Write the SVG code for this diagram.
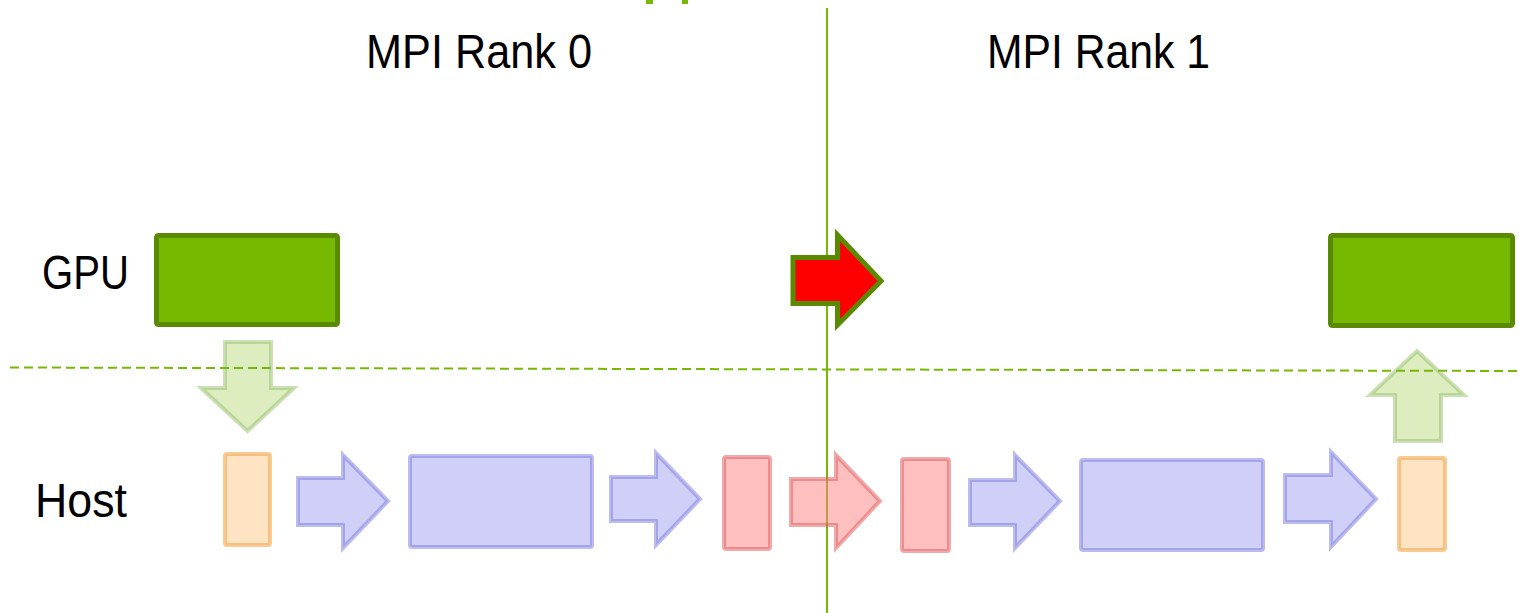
<svg xmlns="http://www.w3.org/2000/svg" width="1519" height="613" viewBox="0 0 1519 613">
<style>
.lbl{font-family:"Liberation Sans","DejaVu Sans",Arial,sans-serif;font-size:48px;fill:#000}
.gpu{fill:#76b900;stroke:#5a8a00;stroke-width:5;stroke-linejoin:round}
.blue{fill:#a0a0f0;fill-opacity:0.5;stroke:#7a7ae0;stroke-opacity:0.5;stroke-width:4;stroke-linejoin:miter}
.pink{fill:#ff8080;fill-opacity:0.5;stroke:#e05858;stroke-opacity:0.5;stroke-width:4}
.orange{fill:#ffc98a;fill-opacity:0.5;stroke:#f0a040;stroke-opacity:0.55;stroke-width:4}
.lgreen{fill:#76b900;fill-opacity:0.25;stroke:#8fb860;stroke-opacity:0.45;stroke-width:4}
.send{fill:#ff0000;stroke:#5a8a00;stroke-width:5}
</style>
<rect width="1519" height="613" fill="#fff"/>
<g id="title-remnant" fill="#76b900">
<rect x="646" y="0" width="7" height="4"/>
<rect x="682" y="0" width="6" height="4"/>
</g>
<g id="connectors">
<line x1="827" y1="8" x2="827" y2="613" stroke="#76b900" stroke-width="2"/>
<line x1="10" y1="367.5" x2="1519" y2="371" stroke="#76b900" stroke-width="2" stroke-dasharray="9 5"/>
</g>
<g id="labels">
<text class="lbl" x="366" y="68" textLength="226" lengthAdjust="spacingAndGlyphs">MPI Rank 0</text>
<text class="lbl" x="987" y="68" textLength="223" lengthAdjust="spacingAndGlyphs">MPI Rank 1</text>
<text class="lbl" x="42" y="289" textLength="87" lengthAdjust="spacingAndGlyphs">GPU</text>
<text class="lbl" x="35" y="517" textLength="92" lengthAdjust="spacingAndGlyphs">Host</text>
</g>
<g id="gpu0"><rect class="gpu" x="156.5" y="235.5" width="181" height="89" rx="2"/></g>
<g id="gpu1"><rect class="gpu" x="1330.5" y="235.5" width="182" height="90" rx="2"/></g>
<g id="d2h"><polygon class="lgreen" points="225,342 271,342 271,388 294,388 247.5,431 201,388 225,388"/></g>
<g id="h2d"><polygon class="lgreen" points="1417,351 1464,395 1441,395 1441,441 1395,441 1395,395 1370,395"/></g>
<g id="send"><polygon class="send" points="793,257.5 837.5,257.5 837.5,235 881,281 837.5,325 837.5,303.5 793,303.5"/></g>
<g id="host-buf0"><rect class="orange" x="225" y="454" width="45" height="91" rx="2"/></g>
<g id="arrow1"><polygon class="blue" points="298,478 343,478 343,455 388,501 343,548 343,525 298,525"/></g>
<g id="host-proc0"><rect class="blue" x="410" y="456" width="182" height="91" rx="2"/></g>
<g id="arrow2"><polygon class="blue" points="611,477 656,477 656,453 700,499 656,545 656,521 611,521"/></g>
<g id="send-buf0"><rect class="pink" x="724" y="457" width="46" height="92" rx="2"/></g>
<g id="arrow-net"><polygon class="pink" points="791,479 836,479 836,455 880,501 836,548 836,525 791,525"/></g>
<g id="recv-buf1"><rect class="pink" x="902" y="459" width="47" height="92" rx="2"/></g>
<g id="arrow3"><polygon class="blue" points="970,480 1015,480 1015,455 1060,501 1015,548 1015,525 970,525"/></g>
<g id="host-proc1"><rect class="blue" x="1081" y="460" width="182" height="90" rx="2"/></g>
<g id="arrow4"><polygon class="blue" points="1285,475 1331,475 1331,452 1376,499 1331,547 1331,522 1285,522"/></g>
<g id="host-buf1"><rect class="orange" x="1399" y="458" width="46" height="92" rx="2"/></g>
</svg>
